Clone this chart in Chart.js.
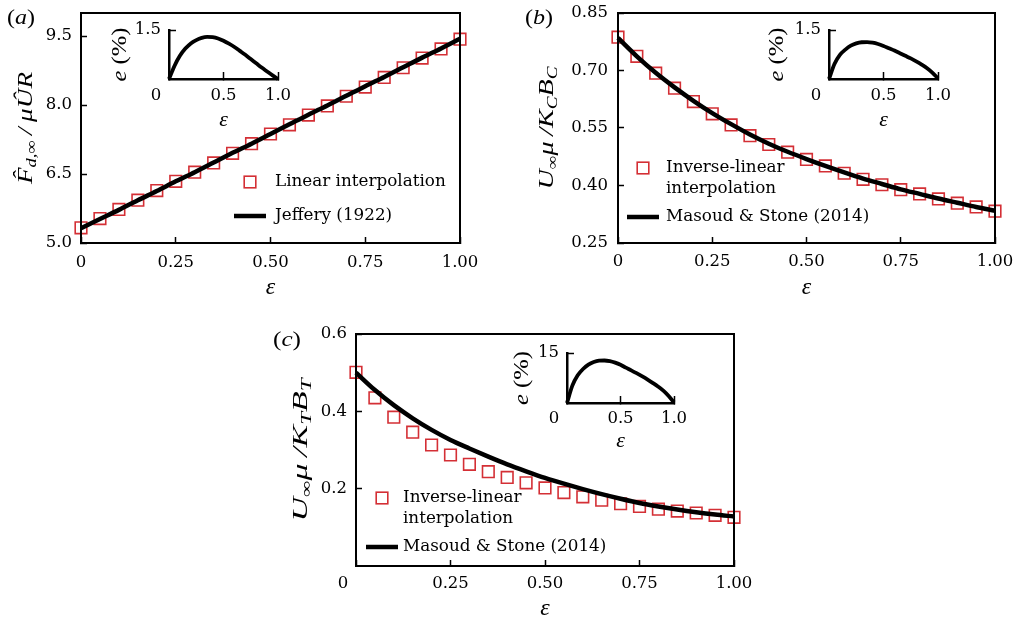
<!DOCTYPE html>
<html>
<head>
<meta charset="utf-8">
<script src="https://cdn.jsdelivr.net/npm/chart.js@4.4.1/dist/chart.umd.min.js"></script>
<style>
  html, body { margin: 0; padding: 0; background: #fff; }
  #fig { position: relative; width: 1025px; height: 621px; overflow: hidden; }
  canvas { position: absolute; }
</style>
</head>
<body>
<div id="fig">
  <canvas id="mainA"></canvas>
  <canvas id="mainB"></canvas>
  <canvas id="mainC"></canvas>
  <canvas id="insetA"></canvas>
  <canvas id="insetB"></canvas>
  <canvas id="insetC"></canvas>
</div>
<script>
/* ---------- data ---------- */
const eps = [0, 0.05, 0.1, 0.15, 0.2, 0.25, 0.3, 0.35, 0.4, 0.45, 0.5,
             0.55, 0.6, 0.65, 0.7, 0.75, 0.8, 0.85, 0.9, 0.95, 1.0];

// (a) drag
const dragLinear  = [5.33, 5.53, 5.73, 5.93, 6.14, 6.34, 6.54, 6.74, 6.95, 7.16, 7.37,
                     7.57, 7.78, 7.98, 8.19, 8.39, 8.60, 8.81, 9.02, 9.22, 9.43];
const dragJeffery = [5.32, 5.52, 5.72, 5.93, 6.13, 6.34, 6.54, 6.75, 6.96, 7.16, 7.37,
                     7.58, 7.79, 7.99, 8.20, 8.41, 8.61, 8.82, 9.03, 9.23, 9.44];
const errA = [0, 0.40, 0.71, 0.93, 1.09, 1.19, 1.26, 1.29, 1.28, 1.24, 1.17,
              1.08, 0.98, 0.86, 0.74, 0.61, 0.48, 0.35, 0.23, 0.11, 0];

// (b) U mu / Kc Bc
const velCInvLinear = [0.787, 0.737, 0.693, 0.654, 0.619, 0.587, 0.558, 0.530, 0.507, 0.487, 0.468,
                       0.451, 0.432, 0.416, 0.402, 0.389, 0.378, 0.365, 0.354, 0.344, 0.333];
const velCMasoud    = [0.785, 0.737, 0.694, 0.656, 0.621, 0.589, 0.560, 0.533, 0.509, 0.488, 0.469,
                       0.451, 0.434, 0.418, 0.404, 0.390, 0.378, 0.366, 0.355, 0.344, 0.334];
const errB = [0, 0.46, 0.74, 0.90, 1.02, 1.09, 1.125, 1.13, 1.11, 1.07, 1.01,
              0.94, 0.87, 0.79, 0.71, 0.63, 0.54, 0.44, 0.33, 0.19, 0.02];

// (c) U mu / Kt Bt
const velTInvLinear = [0.501, 0.435, 0.385, 0.346, 0.313, 0.287, 0.263, 0.244, 0.229, 0.215, 0.202,
                       0.190, 0.179, 0.170, 0.161, 0.154, 0.147, 0.142, 0.137, 0.131, 0.126];
const velTMasoud    = [0.500, 0.455, 0.416, 0.382, 0.352, 0.326, 0.304, 0.283, 0.263, 0.245, 0.228,
                       0.213, 0.199, 0.186, 0.174, 0.163, 0.154, 0.146, 0.139, 0.133, 0.128];
const errC = [0, 5.2, 8.3, 10.2, 11.5, 12.3, 12.7, 12.75, 12.55, 12.1, 11.45,
              10.6, 9.8, 8.95, 8.05, 7.1, 6.05, 4.95, 3.7, 2.1, 0.2];

// ticks
const xTicks      = [0, 0.25, 0.5, 0.75, 1.0];
const xTickLabels = ['0', '0.25', '0.50', '0.75', '1.00'];
const xTickLabelsC = ['0     ', '0.25', '0.50', '0.75', '1.00'];   // "0" sits left of the axis in (c)
const yTicksA = [5.0, 6.5, 8.0, 9.5];
const yTicksB = [0.25, 0.40, 0.55, 0.70, 0.85];
const yTicksC = [0.2, 0.4, 0.6];
const insetXTicks = [0, 0.5, 1.0];
const insetXLabels = ['0     ', '0.5', '1.0'];

/* ---------- styling ---------- */
const SERIF = '"Liberation Serif", "Times New Roman", serif';
const TICK_FONT = { family: '"DejaVu Serif", serif', size: 16.5 };
const RED = '#d42f35';

const pts = (xs, ys) => xs.map((x, i) => ({ x, y: ys[i] }));

/* rich text: parts = [[text, flags]] ; flags: i = italic, s = subscript */
function partFont(f, size) {
  const s = f.includes('s') ? size * 0.68 : size;
  return (f.includes('i') ? 'italic ' : '') + s + 'px ' + SERIF;
}
function richWidth(ctx, parts, size) {
  let w = 0;
  parts.forEach(([t, f]) => { ctx.font = partFont(f, size); w += ctx.measureText(t).width; });
  return w;
}
// draws centred at (x, y) baseline, rotated, stretched to len px
function drawRich(ctx, parts, size, x, y, rot, len, align) {
  ctx.save();
  ctx.translate(x, y);
  ctx.rotate(rot);
  const w = richWidth(ctx, parts, size);
  const k = len ? len / w : 1;
  ctx.scale(k, 1);
  ctx.fillStyle = '#000';
  ctx.textBaseline = 'alphabetic';
  ctx.textAlign = 'left';
  let cx = align === 'left' ? 0 : -w / 2;
  parts.forEach(([t, f]) => {
    ctx.font = partFont(f, size);
    ctx.fillText(t, cx, f.includes('s') ? size * 0.2 : 0);
    cx += ctx.measureText(t).width;
  });
  ctx.restore();
}

/* per-chart decoration: frame, y title, panel tag, legend */
function decor(cfg) {
  return {
    id: 'decor',
    afterDraw(chart) {
      const ctx = chart.ctx;
      const a = chart.chartArea;
      if (cfg.frame) {
        ctx.save();
        ctx.strokeStyle = '#000';
        ctx.lineWidth = 2;
        ctx.strokeRect(a.left, a.top, a.right - a.left, a.bottom - a.top);
        ctx.restore();
      }
      if (cfg.yTitle) {
        const t = cfg.yTitle;
        drawRich(ctx, t.parts, t.size, t.x, (a.top + a.bottom) / 2, -Math.PI / 2, t.len);
      }
      if (cfg.tag) {
        drawRich(ctx, cfg.tag.parts, 22, cfg.tag.x, cfg.tag.y, 0, cfg.tag.len, 'left');
      }
      if (cfg.legend) {
        const L = cfg.legend;
        ctx.save();
        ctx.font = '16.8px "DejaVu Serif", serif';
        ctx.textBaseline = 'middle';
        ctx.textAlign = 'left';
        L.items.forEach(it => {
          const ds = chart.data.datasets[it.ds];
          if (ds.pointStyle === 'rect') {
            const s = ds.pointRadius * Math.SQRT2;
            ctx.strokeStyle = ds.borderColor;
            ctx.lineWidth = ds.borderWidth;
            ctx.strokeRect(L.mx - s / 2, it.y - s / 2, s, s);
          } else {
            ctx.strokeStyle = ds.borderColor;
            ctx.lineWidth = ds.borderWidth;
            ctx.beginPath();
            ctx.moveTo(L.mx - 16, it.y);
            ctx.lineTo(L.mx + 16, it.y);
            ctx.stroke();
          }
          ctx.fillStyle = '#000';
          ds.label.split('\n').forEach((line, k) => ctx.fillText(line, L.tx, it.y + k * 20.5));
        });
        ctx.restore();
      }
    }
  };
}

// fixed box size; drop the label padding so layout.padding alone sets the plot area
function fixBox(s, key, v) {
  s[key] = v;
  s.paddingLeft = s.paddingRight = s.paddingTop = s.paddingBottom = 0;
}

function xAxis(opt) {
  return {
    type: 'linear', position: 'bottom',
    min: opt.ticks[0], max: opt.ticks[opt.ticks.length - 1],
    afterBuildTicks: s => { s.ticks = opt.ticks.map(v => ({ value: v })); },
    afterFit: s => fixBox(s, 'height', opt.h),
    ticks: { callback: (v, i) => opt.labels[i], font: TICK_FONT, color: '#000',
             padding: opt.pad, maxRotation: 0, autoSkip: false },
    grid: { drawOnChartArea: false, drawTicks: true, tickLength: opt.tl,
            tickColor: '#000', tickWidth: 1.5 },
    border: { display: true, color: '#000', width: opt.bw },
    title: { display: true, text: 'ε', color: '#000', padding: 0,
             font: { family: SERIF, style: 'italic', size: opt.ts, lineHeight: 1 } }
  };
}
function yAxis(opt) {
  return {
    type: 'linear', position: 'left',
    min: opt.min, max: opt.max,
    afterBuildTicks: s => { s.ticks = opt.ticks.map(v => ({ value: v })); },
    afterFit: s => fixBox(s, 'width', opt.w),
    ticks: { callback: (v, i) => opt.labels[i], font: TICK_FONT, color: '#000', padding: opt.pad },
    grid: { drawOnChartArea: false, drawTicks: true, tickLength: opt.tl,
            tickColor: opt.tickColor || '#000', tickWidth: 1.5 },
    border: { display: true, color: '#000', width: opt.bw }
  };
}

function place(id, box) {
  const cv = document.getElementById(id);
  cv.width = box.w; cv.height = box.h;
  cv.style.left = box.x + 'px'; cv.style.top = box.y + 'px';
  return cv;
}

function mainPanel(id, box, area, c) {
  const cv = place(id, box);
  new Chart(cv, {
    type: 'scatter',
    data: {
      datasets: [
        { type: 'line', label: c.lineLabel, data: pts(eps, c.line), borderColor: '#000',
          borderWidth: 4.5, pointRadius: 0, cubicInterpolationMode: 'monotone', fill: false,
          order: 0, clip: false },
        { label: c.sqLabel, data: pts(eps, c.sq), pointStyle: 'rect', pointRadius: 8.2,
          borderColor: RED, borderWidth: 1.6, backgroundColor: 'rgba(0,0,0,0)', order: 1, clip: false }
      ]
    },
    options: {
      responsive: false, animation: false, events: [],
      layout: { padding: { top: area.t - box.y, right: box.x + box.w - area.r, left: 0, bottom: 0 } },
      plugins: { legend: { display: false }, tooltip: { enabled: false } },
      scales: {
        x: xAxis({ ticks: xTicks, labels: c.xLabels, h: box.y + box.h - area.b, pad: c.xPad, tl: -6, bw: 2, ts: 24 }),
        y: yAxis({ min: c.yMin, max: c.yMax, ticks: c.yTicks, labels: c.yLabels,
                   w: area.l - box.x, pad: c.yPad, tl: -6, bw: 2 })
      }
    },
    plugins: [decor({ frame: true, yTitle: c.yTitle, tag: c.tag, legend: c.legend })]
  });
}

function insetPanel(id, box, area, c) {
  const cv = place(id, box);
  new Chart(cv, {
    type: 'line',
    data: {
      datasets: [
        { data: pts(eps, c.err), borderColor: '#000', borderWidth: 3.8, pointRadius: 0,
          cubicInterpolationMode: 'monotone', fill: false, clip: false }
      ]
    },
    options: {
      responsive: false, animation: false, events: [],
      layout: { padding: { top: area.t - box.y, right: box.x + box.w - area.r, left: 0, bottom: 0 } },
      plugins: { legend: { display: false }, tooltip: { enabled: false } },
      scales: {
        x: xAxis({ ticks: insetXTicks, labels: insetXLabels, h: box.y + box.h - area.b, pad: c.xPad, tl: -7, bw: 2.5, ts: 22 }),
        y: yAxis({ min: 0, max: c.yMax, ticks: [0, c.yMax], labels: ['', c.yLabel],
                   w: area.l - box.x, pad: 15, tl: -7, bw: 2.5,
                   tickColor: ctx => ctx.index === 0 ? 'rgba(0,0,0,0)' : '#000' })
      }
    },
    plugins: [decor({ yTitle: { parts: [['e', 'i'], [' (%)', '']], size: 22, x: c.titleX, len: 54 } })]
  });
}

/* ---------- panels ---------- */
mainPanel('mainA', { x: 0, y: 0, w: 490, h: 300 }, { l: 81, t: 13, r: 460, b: 243 }, {
  line: dragJeffery, sq: dragLinear,
  lineLabel: 'Jeffery (1922)', sqLabel: 'Linear interpolation',
  xLabels: xTickLabels, xPad: 16,
  yMin: 5.0, yMax: 10.0, yTicks: yTicksA, yLabels: yTicksA.map(v => v.toFixed(1)), yPad: 15,
  yTitle: { parts: [['F\u0302', 'i'], ['d,∞', 'is'], ['\u2009/\u2009', 'i'], ['μ', 'i'], ['Û', 'i'], ['R', 'i']],
            size: 22, x: 32, len: 112 },
  tag: { parts: [['(', ''], ['a', 'i'], [')', '']], x: 7, y: 24, len: 28 },
  legend: { mx: 250, tx: 275, items: [{ ds: 1, y: 182 }, { ds: 0, y: 216 }] }
});

mainPanel('mainB', { x: 500, y: 0, w: 525, h: 300 }, { l: 618, t: 13, r: 995, b: 243 }, {
  line: velCMasoud, sq: velCInvLinear,
  lineLabel: 'Masoud & Stone (2014)', sqLabel: 'Inverse-linear\ninterpolation',
  xLabels: xTickLabels, xPad: 15,
  yMin: 0.25, yMax: 0.85, yTicks: yTicksB, yLabels: yTicksB.map(v => v.toFixed(2)), yPad: 16,
  yTitle: { parts: [['U', 'i'], ['∞', 's'], ['μ', 'i'], ['\u2009/', 'i'], ['K', 'i'], ['C', 'is'], ['B', 'i'], ['C', 'is']],
            size: 22, x: 53, len: 123 },
  tag: { parts: [['(', ''], ['b', 'i'], [')', '']], x: 25, y: 24, len: 28 },
  legend: { mx: 143, tx: 166, items: [{ ds: 1, y: 168 }, { ds: 0, y: 217 }] }
});

mainPanel('mainC', { x: 260, y: 320, w: 510, h: 301 }, { l: 356, t: 334, r: 734, b: 566 }, {
  line: velTMasoud, sq: velTInvLinear,
  lineLabel: 'Masoud & Stone (2014)', sqLabel: 'Inverse-linear\ninterpolation',
  xLabels: xTickLabelsC, xPad: 14,
  yMin: 0, yMax: 0.6, yTicks: yTicksC, yLabels: yTicksC.map(v => v.toFixed(1)), yPad: 15,
  yTitle: { parts: [['U', 'i'], ['∞', 's'], ['μ', 'i'], ['\u2009/', 'i'], ['K', 'i'], ['T', 'is'], ['B', 'i'], ['T', 'is']],
            size: 22, x: 47, len: 143 },
  tag: { parts: [['(', ''], ['c', 'i'], [')', '']], x: 13, y: 26, len: 28 },
  legend: { mx: 122, tx: 143, items: [{ ds: 1, y: 178 }, { ds: 0, y: 227 }] }
});

insetPanel('insetA', { x: 89, y: 14, w: 210, h: 117 }, { l: 169, t: 30, r: 278, b: 79 },
  { err: errA, yMax: 1.5, yLabel: '1.5', xPad: 14, titleX: 37 });
insetPanel('insetB', { x: 749, y: 14, w: 209, h: 117 }, { l: 829, t: 30, r: 938, b: 79 },
  { err: errB, yMax: 1.5, yLabel: '1.5', xPad: 14, titleX: 34 });
insetPanel('insetC', { x: 487, y: 338, w: 210, h: 114 }, { l: 567, t: 353, r: 674, b: 403 },
  { err: errC, yMax: 15, yLabel: '15', xPad: 13, titleX: 41 });
</script>
</body>
</html>
